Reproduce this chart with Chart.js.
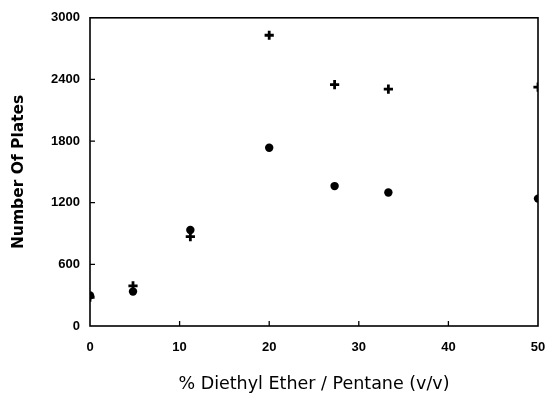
<!DOCTYPE html>
<html>
<head>
<meta charset="utf-8">
<script src="https://cdn.jsdelivr.net/npm/chart.js@4"></script>
<style>
  html, body { margin: 0; padding: 0; background: #fff; }
  #wrap { width: 548px; height: 393px; position: relative; }
</style>
</head>
<body>
<div id="wrap"><canvas id="c" width="548" height="393"></canvas></div>
<script>
// Data
const etherPercent = [0, 4.8, 11.2, 20, 27.3, 33.3, 50];
const platesCross  = [280, 390, 870, 2830, 2350, 2305, 2325];
const platesCircle = [298, 335, 935, 1735, 1362, 1300, 1240];
const xTickValues  = [0, 10, 20, 30, 40, 50];
const yTickValues  = [0, 600, 1200, 1800, 2400, 3000];
const xTitle = '% Diethyl Ether / Pentane (v/v)';
const yTitle = 'Number Of Plates';

function toPoints(xs, ys) { return xs.map((x, i) => ({ x: x, y: ys[i] })); }

const framePlugin = {
  id: 'frame',
  afterDatasetsDraw(chart) {
    const { ctx, chartArea: a, scales } = chart;
    ctx.save();
    ctx.strokeStyle = '#000';
    ctx.lineWidth = 1.6;
    ctx.strokeRect(a.left, a.top, a.right - a.left, a.bottom - a.top);
    ctx.lineWidth = 1.3;
    ctx.beginPath();
    xTickValues.forEach(v => {
      if (v === scales.x.min || v === scales.x.max) return;
      const px = scales.x.getPixelForValue(v);
      ctx.moveTo(px, a.bottom);
      ctx.lineTo(px, a.bottom - 5);
    });
    yTickValues.forEach(v => {
      if (v === scales.y.min || v === scales.y.max) return;
      const py = scales.y.getPixelForValue(v);
      ctx.moveTo(a.left, py);
      ctx.lineTo(a.left + 5, py);
    });
    ctx.stroke();
    ctx.restore();
  }
};

new Chart(document.getElementById('c'), {
  type: 'scatter',
  data: {
    datasets: [
      {
        label: 'cross',
        data: toPoints(etherPercent, platesCross),
        pointStyle: 'cross',
        pointRadius: 4.6,
        borderColor: '#000',
        backgroundColor: '#000',
        borderWidth: 2.8
      },
      {
        label: 'circle',
        data: toPoints(etherPercent, platesCircle),
        pointStyle: 'circle',
        pointRadius: 4.2,
        borderColor: '#000',
        backgroundColor: '#000',
        borderWidth: 0
      }
    ]
  },
  options: {
    responsive: false,
    animation: false,
    devicePixelRatio: 1,
    layout: { padding: { left: 0, right: 10, top: 16, bottom: 0 } },
    plugins: { legend: { display: false }, tooltip: { enabled: false } },
    scales: {
      x: {
        type: 'linear',
        min: 0, max: 50,
        afterBuildTicks(scale) { scale.ticks = xTickValues.map(v => ({ value: v })); },
        afterFit(scale) { scale.height = 67; scale.paddingLeft = 0; scale.paddingRight = 0; },
        grid: { display: false, drawTicks: false },
        border: { display: false },
        ticks: {
          padding: 14,
          color: '#000',
          maxRotation: 0,
          callback: v => String(v),
          font: { family: 'Liberation Sans', size: 13, weight: 'bold' }
        },
        title: {
          display: true,
          text: xTitle,
          color: '#000',
          font: { family: 'DejaVu Sans', size: 17.5, lineHeight: 1 },
          padding: { top: 0, bottom: 0 }
        }
      },
      y: {
        type: 'linear',
        min: 0, max: 3000,
        afterBuildTicks(scale) { scale.ticks = yTickValues.map(v => ({ value: v })); },
        afterFit(scale) { scale.width = 90; },
        grid: { display: false, drawTicks: false },
        border: { display: false },
        ticks: {
          padding: 10,
          color: '#000',
          callback: v => String(v),
          font: { family: 'Liberation Sans', size: 13, weight: 'bold' }
        },
        title: {
          display: true,
          text: yTitle,
          color: '#000',
          font: { family: 'DejaVu Sans', size: 15.5, weight: 'bold', lineHeight: 1 },
          padding: { top: 11, bottom: 0 }
        }
      }
    }
  },
  plugins: [framePlugin]
});
</script>
</body>
</html>
